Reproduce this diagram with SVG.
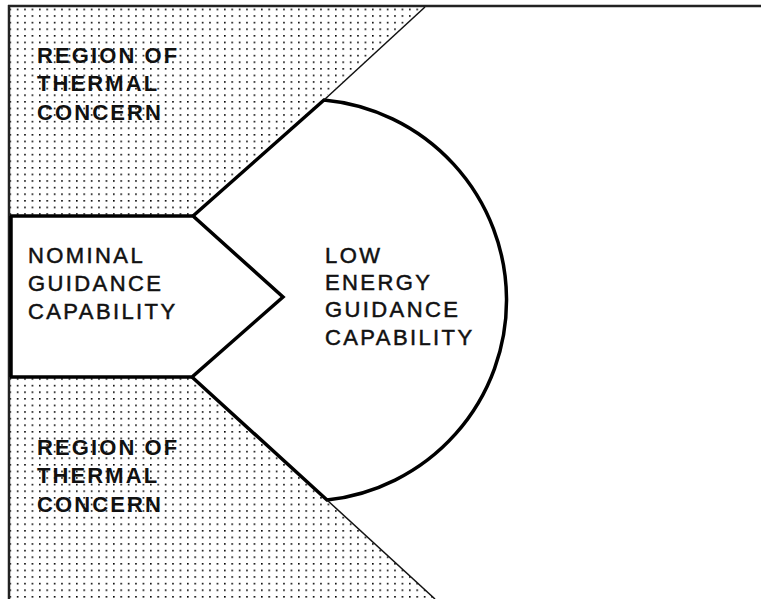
<svg xmlns="http://www.w3.org/2000/svg" width="761" height="599" viewBox="0 0 761 599">
  <style>
    .lbl { font-family: "Liberation Sans", Arial, sans-serif; font-size: 22px; fill: #111; letter-spacing: 2.2px; }
    .reg { font-weight: bold; letter-spacing: 2.1px; }
    .cap { stroke: #111; stroke-width: 0.5px; letter-spacing: 2.4px; }
    .thin { stroke: #111; stroke-width: 1.5; fill: none; }
    .thick { stroke: #000; stroke-width: 3.5; fill: none; stroke-linejoin: miter; }
    .frame { stroke: #222; stroke-width: 2.5; fill: none; }
  </style>
  <defs>
    <pattern id="dots" patternUnits="userSpaceOnUse" width="7.4" height="6.6" x="2" y="2">
      <rect x="0" y="0" width="1.6" height="1.6" fill="#000"/>
    </pattern>
  </defs>
  <rect x="0" y="0" width="761" height="599" fill="#fff"/>

  <g id="region-top">
    <polygon points="10,7 425,7 193,216 10,216" fill="url(#dots)"/>
    <text class="lbl reg" x="37" y="63">REGION OF</text>
    <text class="lbl reg" x="37" y="91">THERMAL</text>
    <text class="lbl reg" x="37" y="120">CONCERN</text>
  </g>

  <g id="region-bottom">
    <polygon points="10,377 192,377 435,599 10,599" fill="url(#dots)"/>
    <text class="lbl reg" x="37" y="455">REGION OF</text>
    <text class="lbl reg" x="37" y="483">THERMAL</text>
    <text class="lbl reg" x="37" y="512">CONCERN</text>
  </g>

  <g id="frame">
    <line class="frame" x1="8" y1="6" x2="761" y2="6"/>
    <line class="frame" x1="9" y1="5" x2="9" y2="599"/>
  </g>

  <g id="nominal">
    <path class="thick" d="M10,216 L193,216 L283,297 L192,377 L10,377"/>
    <line class="thick" x1="11" y1="216" x2="11" y2="377"/>
    <text class="lbl cap" x="28" y="263">NOMINAL</text>
    <text class="lbl cap" x="28" y="291">GUIDANCE</text>
    <text class="lbl cap" x="28" y="319">CAPABILITY</text>
  </g>

  <g id="low-energy">
    <path class="thick" d="M193,216 L324,100 A201,201 0 0 1 327,500 L192,377"/>
    <text class="lbl cap" x="325" y="263">LOW</text>
    <text class="lbl cap" x="325" y="290">ENERGY</text>
    <text class="lbl cap" x="325" y="317">GUIDANCE</text>
    <text class="lbl cap" x="325" y="345">CAPABILITY</text>
  </g>

  <g id="connectors">
    <line class="thin" x1="425" y1="7" x2="324" y2="100"/>
    <line class="thin" x1="327" y1="500" x2="435" y2="599"/>
  </g>
</svg>
